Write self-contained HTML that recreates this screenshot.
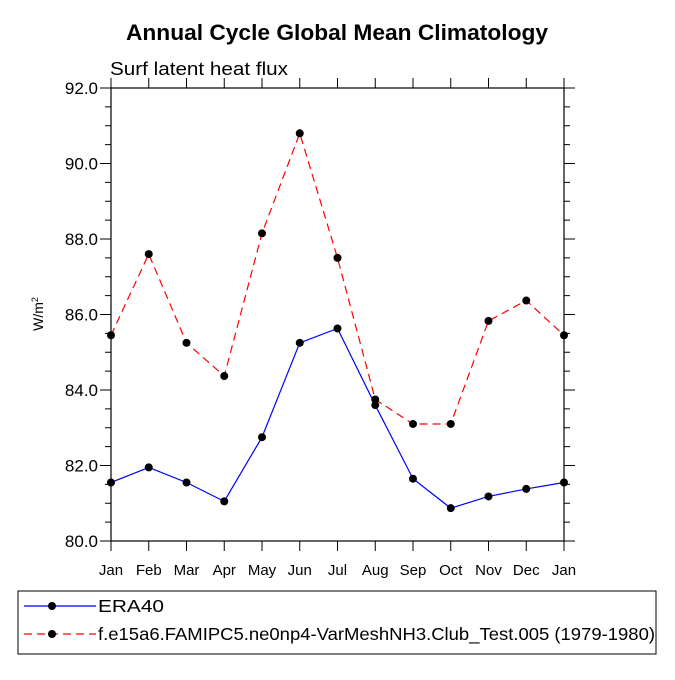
<!DOCTYPE html>
<html><head><meta charset="utf-8"><style>
body{margin:0;background:#fff;}
svg text{font-family:"Liberation Sans",Helvetica,sans-serif;}
</style></head><body>
<svg id="c" width="675" height="675" viewBox="0 0 675 675">
<text x="337" y="40" text-anchor="middle" font-size="22" font-weight="bold" textLength="422" lengthAdjust="spacingAndGlyphs">Annual Cycle Global Mean Climatology</text>
<text x="110" y="75" font-size="18.5" textLength="178" lengthAdjust="spacingAndGlyphs">Surf latent heat flux</text>
<text transform="translate(43,314) rotate(-90)" text-anchor="middle" font-size="14">W/m<tspan dy="-5" font-size="9">2</tspan></text>
<g id="axes"></g>
<g id="series"></g>
<rect x="18" y="591" width="638" height="63" fill="none" stroke="#000" stroke-width="1"/>
<g>
<line x1="24" y1="606" x2="96" y2="606" stroke="#0000ff" stroke-width="1.2"/>
<circle cx="52" cy="606" r="4" fill="#000"/>
<text x="98" y="612" font-size="17.5" textLength="66" lengthAdjust="spacingAndGlyphs">ERA40</text>
</g>
<g>
<line x1="24" y1="634" x2="96" y2="634" stroke="#ff0000" stroke-width="1.2" stroke-dasharray="8,5"/>
<circle cx="52" cy="634" r="4" fill="#000"/>
<text x="98" y="640" font-size="17.5" textLength="557" lengthAdjust="spacingAndGlyphs">f.e15a6.FAMIPC5.ne0np4-VarMeshNH3.Club_Test.005 (1979-1980)</text>
</g>
</svg>
<script>
const months=["Jan","Feb","Mar","Apr","May","Jun","Jul","Aug","Sep","Oct","Nov","Dec","Jan"];
const era40=[81.55,81.95,81.55,81.05,82.75,85.25,85.63,83.6,81.65,80.87,81.18,81.38,81.55];
const model=[85.45,87.6,85.25,84.37,88.15,90.8,87.5,83.75,83.1,83.1,85.83,86.37,85.45];
const yTicks=[80,82,84,86,88,90,92];
const NS="http://www.w3.org/2000/svg";
const L=111,R=564,T=88,B=541,yMin=80,yMax=92;
const xs=i=>L+(R-L)*i/(months.length-1);
const ys=v=>B-(B-T)*(v-yMin)/(yMax-yMin);
function mk(t,a,p){const e=document.createElementNS(NS,t);for(const k in a)e.setAttribute(k,a[k]);p.appendChild(e);return e;}
const ax=document.getElementById('axes');
const frame=mk('rect',{x:L,y:T,width:R-L,height:B-T,fill:'none',stroke:'#000','stroke-width':1.2},ax);


months.forEach((m,i)=>{
 const x=xs(i);
 mk('line',{x1:x,y1:T,x2:x,y2:T-10,stroke:'#000'},ax);
 mk('line',{x1:x,y1:B,x2:x,y2:B+10,stroke:'#000'},ax);
 const t=mk('text',{x:x,y:B+34,'text-anchor':'middle','font-size':15},ax);
 t.textContent=m;
 
 
});
for(let v=yMin;v<=yMax+1e-9;v+=0.5){
 const y=ys(v);const major=Math.abs(v-Math.round(v/2)*2)<1e-6;const len=major?11:6;
 mk('line',{x1:L,y1:y,x2:L-len,y2:y,stroke:'#000'},ax);
 mk('line',{x1:R,y1:y,x2:R+len,y2:y,stroke:'#000'},ax);
}
yTicks.forEach(v=>{
 const t=mk('text',{x:L-13,y:ys(v)+6,'text-anchor':'end','font-size':17},ax);
 t.textContent=v.toFixed(1);
 
 
});
const sg=document.getElementById('series');
function series(data,color,dash,name){
 const g=mk('g',{},sg);
 
 
 const pl=mk('polyline',{points:data.map((v,i)=>xs(i)+','+ys(v)).join(' '),fill:'none',stroke:color,'stroke-width':1.2},g);
 if(dash)pl.setAttribute('stroke-dasharray',dash);
 data.forEach((v,i)=>{
  const c=mk('circle',{cx:xs(i),cy:ys(v),r:4,fill:'#000'},g);
  
  
 });
}
series(era40,'#0000ff',null,'series-era40');
series(model,'#ff0000','8,5','series-model');
</script>
</body></html>
